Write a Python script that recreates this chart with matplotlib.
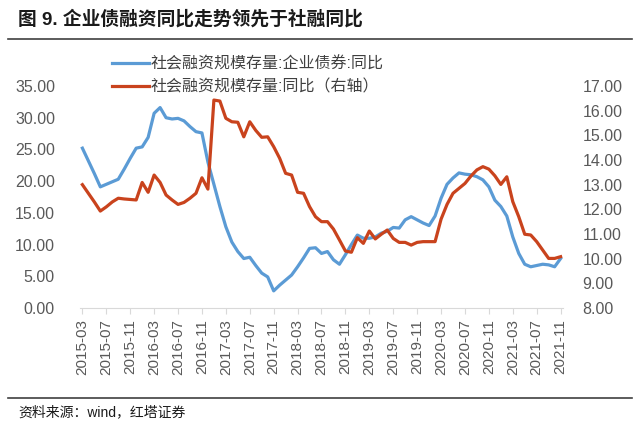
import pandas as pd
import matplotlib
matplotlib.use("Agg")
import matplotlib.pyplot as plt

plt.rcParams['font.family'] = ['Liberation Sans', 'Noto Sans CJK SC', 'DejaVu Sans']

# Months on the x axis
months = list(pd.period_range('2015-03', '2021-11', freq='M').strftime('%Y-%m'))
tick_labels = months[::4]

# 社会融资规模存量:企业债券:同比 (left axis, %)
bond_yoy = [25.2, 23.2, 21.2, 19.1, 19.5, 19.9, 20.3, 21.9, 23.6, 25.2,
            25.4, 26.9, 30.7, 31.6, 30.0, 29.8, 29.9, 29.5, 28.6, 27.8,
            27.6, 23.0, 19.5, 16.0, 12.8, 10.4, 8.9, 7.8, 8.0, 6.7,
            5.5, 4.9, 2.7, 3.6, 4.4, 5.2, 6.5, 7.9, 9.4, 9.5,
            8.6, 8.9, 7.6, 6.9, 8.4, 10.0, 11.5, 11.0, 11.0, 11.2,
            11.8, 12.1, 12.7, 12.6, 13.9, 14.4, 13.9, 13.4, 13.0, 14.5,
            17.3, 19.5, 20.5, 21.3, 21.1, 21.0, 20.7, 20.2, 19.1, 17.0,
            16.0, 14.5, 11.2, 8.6, 6.9, 6.5, 6.7, 6.9, 6.8, 6.5,
            7.8]

# 社会融资规模存量:同比 (right axis, %)
tsf_yoy = [13.0, 12.65, 12.3, 11.93, 12.1, 12.3, 12.45, 12.42, 12.4, 12.38,
           13.09, 12.69, 13.39, 13.09, 12.58, 12.38, 12.2, 12.28, 12.45, 12.65,
           13.28, 12.82, 16.43, 16.39, 15.69, 15.55, 15.53, 14.94, 15.55, 15.2,
           14.92, 14.94, 14.54, 14.07, 13.46, 13.39, 12.69, 12.65, 12.11, 11.7,
           11.5, 11.5, 11.2, 10.76, 10.31, 10.26, 10.85, 10.62, 11.12, 10.8,
           10.99, 11.16, 10.82, 10.66, 10.66, 10.55, 10.66, 10.69, 10.69, 10.69,
           11.6, 12.2, 12.65, 12.85, 13.05, 13.35, 13.6, 13.73, 13.63, 13.36,
           13.01, 13.32, 12.31, 11.7, 10.99, 10.96, 10.69, 10.35, 10.01, 10.01,
           10.08]

blue = '#5B9BD5'
red = '#C9431D'
grey = '#595959'

fig = plt.figure(figsize=(6.4, 4.29), dpi=100)
ax = fig.add_axes([80 / 640, (429 - 308) / 429, 483 / 640, 222 / 429])
ax2 = ax.twinx()

x = range(len(months))
l1, = ax.plot(x, bond_yoy, color=blue, lw=2.3, label='社会融资规模存量:企业债券:同比')
l2, = ax2.plot(x, tsf_yoy, color=red, lw=2.3, label='社会融资规模存量:同比（右轴）')

ax.set_xlim(-0.4, len(months) - 0.6)
ax.set_ylim(0, 35)
ax.set_yticks(range(0, 36, 5))
ax.set_yticklabels([f'{v:.2f}' for v in range(0, 36, 5)])
ax2.set_ylim(8, 17)
ax2.set_yticks(range(8, 18))
ax2.set_yticklabels([f'{v:.2f}' for v in range(8, 18)])

ax.set_xticks(range(0, len(months), 4))
ax.set_xticklabels(tick_labels, rotation=90)

for a in (ax, ax2):
    for s in ('top', 'left', 'right'):
        a.spines[s].set_visible(False)
    a.spines['bottom'].set_color('#D9D9D9')
ax2.spines['bottom'].set_visible(False)

ax.tick_params(axis='x', colors='#D9D9D9', labelcolor=grey, labelsize=11, length=4, pad=4)
ax.tick_params(axis='y', length=0, labelcolor=grey, labelsize=11.5, pad=18)
ax2.tick_params(axis='y', length=0, labelcolor=grey, labelsize=11.5, pad=14)

fig.legend(handles=[l1, l2], loc='upper left', bbox_to_anchor=(98 / 640, 1 - 42 / 429),
           frameon=False, fontsize=11.5, handlelength=2.3, handletextpad=0.1,
           labelspacing=0.5, labelcolor='#404040')

# title, rules and source
fig.text(18 / 640, 1 - 19 / 429, '图 9. 企业债融资同比走势领先于社融同比',
         fontsize=13.5, fontweight='bold', va='center', color='#1a1a1a')
fig.add_artist(plt.Line2D([8 / 640, 632 / 640], [1 - 39 / 429] * 2, color='#404040', lw=1.2))
fig.add_artist(plt.Line2D([8 / 640, 632 / 640], [1 - 398 / 429] * 2, color='#404040', lw=1.2))
fig.text(18 / 640, 1 - 412 / 429, '资料来源：wind，红塔证券', fontsize=10, va='center', color='#1a1a1a')

fig.savefig('out.png', dpi=100)
